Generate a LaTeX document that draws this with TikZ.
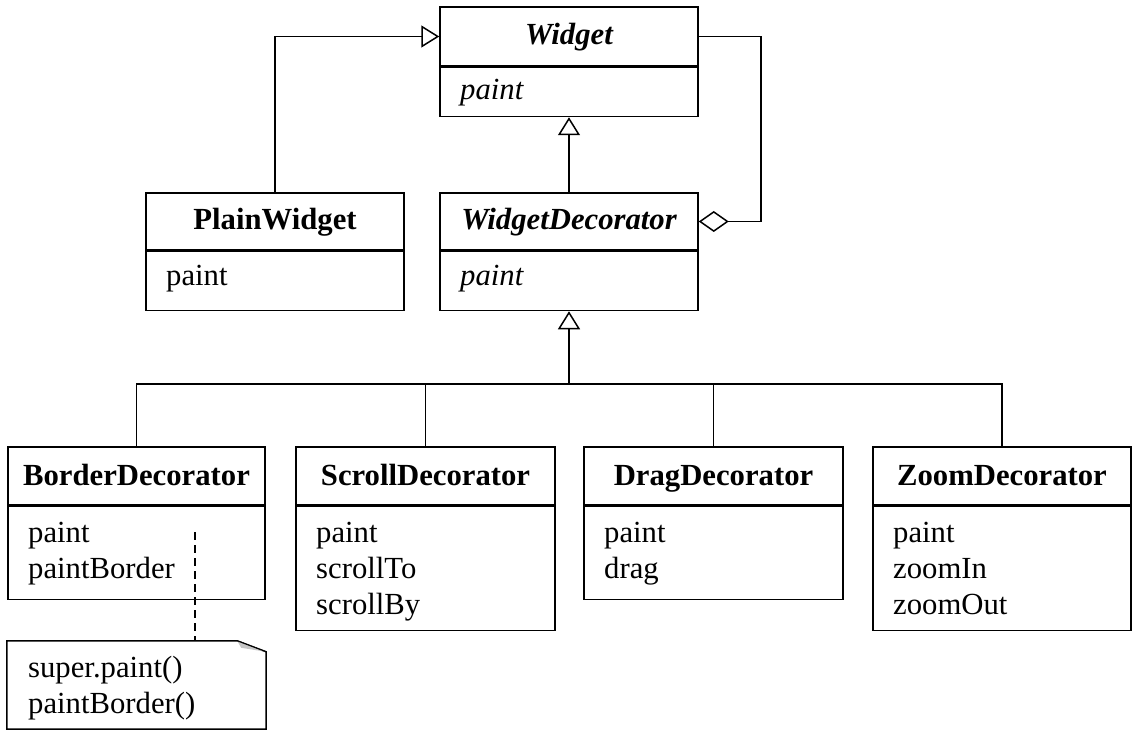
\documentclass[tikz,border=0pt]{standalone}
\usepackage{fontspec}
\setmainfont{Liberation Serif}
\usetikzlibrary{arrows.meta,calc}
\begin{document}
\begin{tikzpicture}[x=1pt,y=-1pt,
  every node/.style={font=\fontsize{30.7}{36}\selectfont},
  box/.style={draw, line width=1.5pt, rectangle, inner sep=0pt},
  title/.style={anchor=base, inner sep=0pt, font=\fontsize{30.7}{36}\selectfont\bfseries},
  attr/.style={anchor=base west, inner sep=0pt},
  conn/.style={line width=1.5pt},
  inherit/.style={conn, -{Triangle[open, length=18pt, width=22pt, line width=1.5pt]}},
  aggr/.style={conn, -{Diamond[open, length=30pt, width=21pt, line width=1.5pt]}},
  notedash/.style={line width=1.5pt, dash pattern=on 8pt off 5pt}
]
\useasboundingbox (0,0) rectangle (1137,735);

% Widget
\node[box, minimum width=258pt, minimum height=59pt] (widget) at (569,36.5) {};
\node[box, minimum width=258pt, minimum height=49pt, anchor=north] (widgetB) at (widget.south) {};
\node[title] (widgetT) at (569,45) {\itshape Widget};
\node[attr] (widgetA) at (460,100) {\itshape paint};

% PlainWidget
\node[box, minimum width=258pt, minimum height=57pt] (plain) at (275,221.5) {};
\node[box, minimum width=258pt, minimum height=59pt, anchor=north] (plainB) at (plain.south) {};
\node[title] (plainT) at (275,230) {PlainWidget};
\node[attr] (plainA) at (166,285) {paint};

% WidgetDecorator
\node[box, minimum width=258pt, minimum height=57pt] (wdec) at (569,221.5) {};
\node[box, minimum width=258pt, minimum height=59pt, anchor=north] (wdecB) at (wdec.south) {};
\node[title] (wdecT) at (569,230) {\itshape WidgetDecorator};
\node[attr] (wdecA) at (460,285) {\itshape paint};

% BorderDecorator
\node[box, minimum width=257pt, minimum height=58pt] (border) at (136.5,476) {};
\node[box, minimum width=257pt, minimum height=93pt, anchor=north] (borderB) at (border.south) {};
\node[title] (borderT) at (136.5,485) {BorderDecorator};
\node[attr] (borderA1) at (28,542) {paint};
\node[attr] (borderA2) at (28,578) {paintBorder};

% ScrollDecorator
\node[box, minimum width=259pt, minimum height=58pt] (scroll) at (425.5,476) {};
\node[box, minimum width=259pt, minimum height=124pt, anchor=north] (scrollB) at (scroll.south) {};
\node[title] (scrollT) at (425.5,485) {ScrollDecorator};
\node[attr] (scrollA1) at (316,542) {paint};
\node[attr] (scrollA2) at (316,578) {scrollTo};
\node[attr] (scrollA3) at (316,614) {scrollBy};

% DragDecorator
\node[box, minimum width=259pt, minimum height=58pt] (drag) at (713.5,476) {};
\node[box, minimum width=259pt, minimum height=93pt, anchor=north] (dragB) at (drag.south) {};
\node[title] (dragT) at (713.5,485) {DragDecorator};
\node[attr] (dragA1) at (604,542) {paint};
\node[attr] (dragA2) at (604,578) {drag};

% ZoomDecorator
\node[box, minimum width=258pt, minimum height=58pt] (zoom) at (1002,476) {};
\node[box, minimum width=258pt, minimum height=124pt, anchor=north] (zoomB) at (zoom.south) {};
\node[title] (zoomT) at (1002,485) {ZoomDecorator};
\node[attr] (zoomA1) at (893,542) {paint};
\node[attr] (zoomA2) at (893,578) {zoomIn};
\node[attr] (zoomA3) at (893,614) {zoomOut};

% Note
\node[inner sep=0pt, minimum width=259pt, minimum height=88pt] (note) at (136.5,685) {};
\draw[line width=1.5pt] (note.north west) -- ($(note.north east)+(-29,0)$) -- ($(note.north east)+(0,11)$) -- (note.south east) -- (note.south west) -- cycle;
\fill[gray!45] ($(note.north east)+(-29,0)$) -- ($(note.north east)+(0,11)$) -- ($(note.north east)+(-25,7)$) -- cycle;
\draw[line width=1pt] ($(note.north east)+(-29,0)$) -- ($(note.north east)+(0,11)$);
\node[attr] (noteA1) at (28,677) {super.paint()};
\node[attr] (noteA2) at (28,713) {paintBorder()};
\coordinate (noteSrc) at (195,532);
\draw[notedash] (noteSrc) -- (noteSrc |- note.north);

% Connectors
\draw[inherit] (plain.north) |- (widget.west);
\draw[inherit] (wdec.north) -- (widgetB.south);
\draw[aggr] (widget.east) -- ++(62,0) |- (wdec.east);
\coordinate (hub) at (569,384);
\draw[conn] (border.north) |- (hub) -| (zoom.north);
\draw[conn] (scroll.north) -- (scroll.north |- hub);
\draw[conn] (drag.north) -- (drag.north |- hub);
\draw[inherit] (hub) -- (wdecB.south);
\end{tikzpicture}
\end{document}
